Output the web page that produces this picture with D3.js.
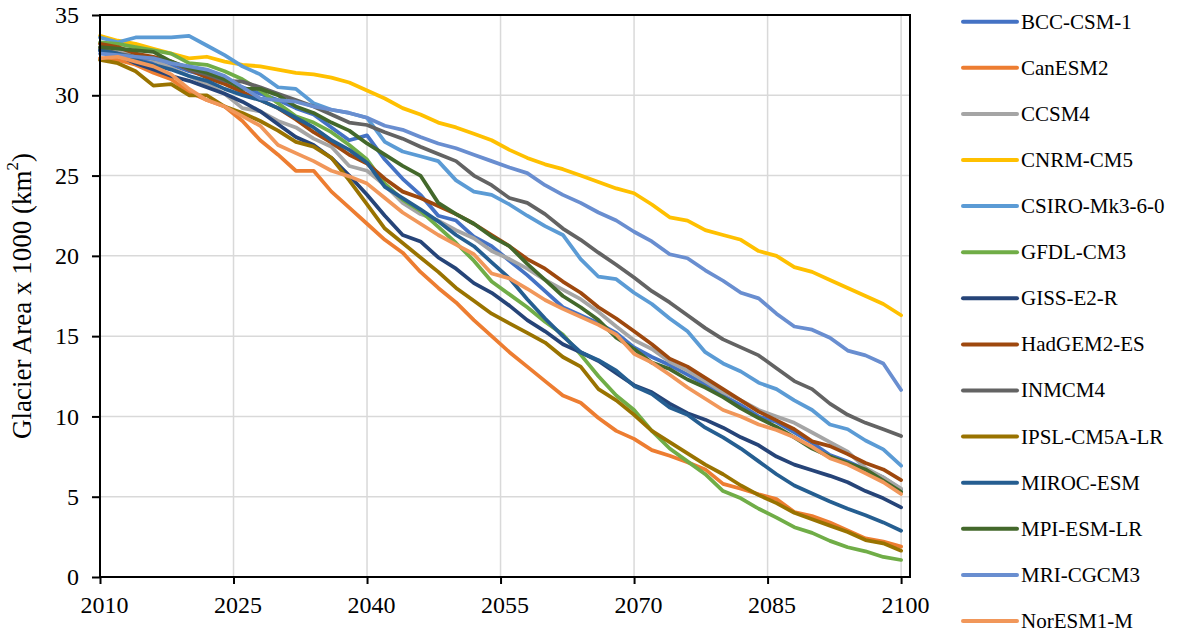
<!DOCTYPE html>
<html>
<head>
<meta charset="utf-8">
<script src="https://cdn.jsdelivr.net/npm/d3@7"></script>
<style>
  body { margin: 0; background: #ffffff; }
  svg text { font-family: "Liberation Serif", "Times New Roman", serif; fill: #000; }
</style>
</head>
<body>
<svg id="chart" width="1179" height="635"></svg>
<script>
// Projection years (every second year)
const years = [2010, 2012, 2014, 2016, 2018, 2020, 2022, 2024, 2026, 2028, 2030,
  2032, 2034, 2036, 2038, 2040, 2042, 2044, 2046, 2048, 2050,
  2052, 2054, 2056, 2058, 2060, 2062, 2064, 2066, 2068, 2070,
  2072, 2074, 2076, 2078, 2080, 2082, 2084, 2086, 2088, 2090,
  2092, 2094, 2096, 2098, 2100];

const models = ["BCC-CSM-1", "CanESM2", "CCSM4", "CNRM-CM5", "CSIRO-Mk3-6-0", "GFDL-CM3",
  "GISS-E2-R", "HadGEM2-ES", "INMCM4", "IPSL-CM5A-LR", "MIROC-ESM", "MPI-ESM-LR",
  "MRI-CGCM3", "NorESM1-M"];

const colors = ["#4472C4", "#ED7D31", "#A5A5A5", "#FFC000", "#5B9BD5", "#70AD47",
  "#264478", "#9E480E", "#636363", "#997300", "#255E91", "#43682B", "#698ED0", "#F1975A"];

// Glacier area (x 1000 km²) per model
const bcc = [32.8, 32.6, 32.4, 32.1, 31.9, 31.5, 31.2, 30.9, 30.5, 30.1, 29.7,
  29.2, 28.8, 28.0, 27.2, 27.5, 26.0, 24.8, 23.8, 22.5, 22.2,
  21.2, 20.6, 19.7, 18.8, 17.8, 16.8, 16.3, 15.8, 15.2, 14.3,
  13.7, 13.2, 12.6, 12.0, 11.3, 10.7, 10.0, 9.65, 9.0, 8.35,
  7.6, 7.2, 6.7, 6.2, 5.46];
const canesm2 = [32.3, 32.2, 31.9, 31.4, 31.0, 30.2, 29.7, 29.3, 28.4, 27.2, 26.3,
  25.3, 25.3, 24.0, 23.0, 22.0, 21.0, 20.2, 19.0, 18.0, 17.1,
  16.0, 15.0, 14.0, 13.1, 12.2, 11.3, 10.85, 9.9, 9.1, 8.6,
  7.9, 7.55, 7.15, 6.7, 5.8, 5.5, 5.15, 4.85, 4.05, 3.8,
  3.4, 2.9, 2.4, 2.2, 1.89];
const ccsm4 = [33.0, 32.8, 32.5, 32.2, 31.7, 31.2, 30.7, 30.1, 29.2, 29.0, 28.4,
  28.0, 27.3, 26.8, 25.6, 25.3, 24.4, 23.3, 22.6, 22.2, 21.6,
  21.1, 20.3, 19.8, 19.2, 18.5, 17.9, 17.3, 16.5, 15.6, 14.75,
  14.2, 13.4, 12.85, 12.2, 11.5, 11.0, 10.4, 10.0, 9.6, 9.0,
  8.4, 7.8, 6.8, 6.2, 5.5];
const cnrm = [33.7, 33.4, 33.2, 32.9, 32.6, 32.3, 32.4, 32.1, 31.9, 31.8, 31.6,
  31.4, 31.3, 31.1, 30.8, 30.3, 29.8, 29.2, 28.8, 28.3, 28.0,
  27.6, 27.2, 26.6, 26.1, 25.7, 25.4, 25.0, 24.6, 24.2, 23.9,
  23.2, 22.4, 22.2, 21.6, 21.3, 21.0, 20.3, 20.0, 19.3, 19.0,
  18.5, 18.0, 17.5, 17.0, 16.3];
const csiro = [33.6, 33.3, 33.6, 33.6, 33.6, 33.7, 33.1, 32.5, 31.8, 31.3, 30.5,
  30.4, 29.5, 29.1, 28.9, 28.6, 27.1, 26.5, 26.2, 25.9, 24.7,
  24.0, 23.8, 23.2, 22.5, 21.85, 21.3, 19.8, 18.7, 18.55, 17.7,
  17.0, 16.1, 15.3, 14.0, 13.3, 12.8, 12.1, 11.7, 11.0, 10.4,
  9.5, 9.2, 8.5, 7.95, 6.93];
const gfdl = [33.3, 33.2, 33.0, 32.8, 32.6, 32.0, 31.9, 31.5, 31.0, 30.3, 29.5,
  28.7, 28.3, 27.7, 26.9, 26.0, 24.5, 23.5, 22.8, 21.8, 20.8,
  19.7, 18.4, 17.6, 16.8, 15.9, 15.1, 13.85, 12.5, 11.3, 10.4,
  9.1, 8.0, 7.2, 6.4, 5.35, 4.9, 4.25, 3.7, 3.1, 2.75,
  2.25, 1.85, 1.6, 1.25, 1.06];
const giss = [32.8, 32.5, 32.0, 31.6, 31.2, 30.9, 30.5, 30.1, 29.6, 29.0, 28.2,
  27.4, 26.9, 26.1, 25.0, 23.8, 22.5, 21.3, 20.9, 19.9, 19.2,
  18.3, 17.7, 16.9, 16.0, 15.3, 14.5, 14.0, 13.45, 12.7, 11.95,
  11.5, 10.8, 10.2, 9.8, 9.3, 8.7, 8.2, 7.5, 7.0, 6.65,
  6.3, 5.9, 5.35, 4.9, 4.34];
const hadgem = [33.2, 33.0, 32.6, 32.4, 32.1, 31.6, 31.1, 30.7, 30.2, 29.7, 29.2,
  28.5, 27.7, 27.05, 26.3, 25.75, 24.8, 24.0, 23.6, 23.1, 22.6,
  22.0, 21.3, 20.6, 19.8, 19.2, 18.4, 17.7, 16.8, 16.1, 15.3,
  14.5, 13.6, 13.1, 12.4, 11.7, 11.0, 10.3, 9.75, 9.2, 8.45,
  8.15, 7.65, 7.1, 6.7, 6.04];
const inmcm4 = [32.9, 32.6, 32.4, 32.3, 32.1, 31.6, 31.3, 30.9, 30.85, 30.5, 30.1,
  29.7, 29.3, 28.8, 28.3, 28.15, 27.7, 27.3, 26.8, 26.35, 25.9,
  25.0, 24.4, 23.6, 23.3, 22.6, 21.7, 21.0, 20.2, 19.45, 18.65,
  17.8, 17.1, 16.3, 15.5, 14.8, 14.3, 13.8, 13.0, 12.2, 11.7,
  10.8, 10.1, 9.6, 9.2, 8.78];
const ipsl = [32.2, 32.0, 31.5, 30.6, 30.7, 30.0, 30.0, 29.3, 28.9, 28.4, 27.8,
  27.1, 26.8, 26.1, 24.7, 23.2, 21.7, 20.8, 19.9, 19.0, 18.0,
  17.2, 16.4, 15.8, 15.2, 14.6, 13.7, 13.1, 11.7, 11.0, 10.1,
  9.1, 8.4, 7.7, 7.0, 6.4, 5.7, 5.1, 4.6, 4.0, 3.6,
  3.2, 2.8, 2.3, 2.1, 1.64];
const miroc = [32.8, 32.6, 32.2, 31.9, 31.6, 31.2, 30.9, 30.4, 30.0, 29.7, 29.2,
  28.6, 28.0, 27.2, 26.6, 25.8, 24.3, 23.6, 22.9, 22.15, 21.3,
  20.6, 19.6, 18.6, 17.3, 16.1, 15.0, 14.0, 13.5, 12.85, 11.9,
  11.4, 10.55, 10.1, 9.3, 8.7, 8.0, 7.2, 6.4, 5.7, 5.2,
  4.7, 4.25, 3.85, 3.4, 2.88];
const mpi = [33.0, 32.9, 32.8, 32.7, 32.1, 31.7, 31.4, 31.0, 30.4, 30.4, 30.0,
  29.3, 28.9, 28.3, 27.8, 27.0, 26.3, 25.6, 25.0, 23.3, 22.6,
  22.0, 21.2, 20.6, 19.5, 18.5, 17.5, 16.8, 16.0, 14.9, 14.2,
  13.35, 12.95, 12.3, 11.8, 11.2, 10.5, 9.9, 9.35, 8.7, 8.0,
  7.5, 7.1, 6.7, 6.0, 5.3];
const mri = [32.6, 32.5, 32.4, 32.3, 32.0, 31.8, 31.6, 31.2, 30.5, 29.8, 29.7,
  29.6, 29.3, 29.1, 28.9, 28.6, 28.1, 27.85, 27.4, 27.0, 26.7,
  26.3, 25.9, 25.5, 25.15, 24.4, 23.8, 23.3, 22.7, 22.2, 21.5,
  20.9, 20.1, 19.85, 19.1, 18.45, 17.7, 17.35, 16.4, 15.6, 15.4,
  14.9, 14.1, 13.8, 13.3, 11.65];
const noresm = [32.3, 32.4, 32.1, 31.8, 31.3, 30.4, 29.7, 29.3, 28.7, 28.1, 26.9,
  26.4, 25.9, 25.3, 24.95, 24.5, 23.6, 22.7, 22.0, 21.3, 20.7,
  20.1, 18.9, 18.6, 17.95, 17.25, 16.7, 16.2, 15.7, 15.1, 13.9,
  13.35, 12.6, 11.8, 11.1, 10.4, 10.0, 9.5, 9.15, 8.7, 8.1,
  7.4, 7.0, 6.45, 5.9, 5.17];

const seriesValues = [bcc, canesm2, ccsm4, cnrm, csiro, gfdl, giss, hadgem,
  inmcm4, ipsl, miroc, mpi, mri, noresm];

const xTicks = [2010, 2025, 2040, 2055, 2070, 2085, 2100];
const yTicks = [0, 5, 10, 15, 20, 25, 30, 35];

const series = models.map((name, i) => ({
  name,
  color: colors[i],
  points: years.map((yr, j) => ({ year: yr, value: seriesValues[i][j] }))
}));

const svg = d3.select("#chart");
const plot = { left: 100, top: 15, right: 910, bottom: 577 };

const x = d3.scaleLinear().domain([2010, 2101]).range([plot.left, plot.right]);
const y = d3.scaleLinear().domain([0, 35]).range([plot.bottom, plot.top]);

// Gridlines
const grid = svg.append("g").attr("class", "grid");
grid.selectAll("line.h").data(yTicks.filter(d => d > 0)).join("line")
  .attr("class", "h")
  .attr("x1", plot.left).attr("x2", plot.right)
  .attr("y1", d => y(d)).attr("y2", d => y(d))
  .attr("stroke", "#d9d9d9").attr("stroke-width", 1.5);
grid.selectAll("line.v").data(xTicks.filter(d => d > 2010)).join("line")
  .attr("class", "v")
  .attr("x1", d => x(d)).attr("x2", d => x(d))
  .attr("y1", plot.top).attr("y2", plot.bottom)
  .attr("stroke", "#d9d9d9").attr("stroke-width", 1.5);

// Model lines
const line = d3.line().x(d => x(d.year)).y(d => y(d.value));
svg.append("g").attr("class", "lines")
  .selectAll("path").data(series).join("path")
  .attr("d", d => line(d.points))
  .attr("fill", "none")
  .attr("stroke", d => d.color)
  .attr("stroke-width", 3.75)
  .attr("stroke-linejoin", "round")
  .attr("stroke-linecap", "round");

// Plot frame
svg.append("rect")
  .attr("x", plot.left).attr("y", plot.top)
  .attr("width", plot.right - plot.left).attr("height", plot.bottom - plot.top)
  .attr("fill", "none").attr("stroke", "#000").attr("stroke-width", 2);

// Axes
const yAxis = svg.append("g")
  .attr("transform", `translate(${plot.left},0)`)
  .call(d3.axisLeft(y).tickValues(yTicks).tickSize(8).tickPadding(13));
const xAxis = svg.append("g")
  .attr("transform", `translate(0,${plot.bottom})`)
  .call(d3.axisBottom(x).tickValues(xTicks).tickFormat(d3.format("d")).tickSize(7).tickPadding(12));

[yAxis, xAxis].forEach(g => {
  g.select(".domain").remove();
  g.selectAll(".tick line").attr("stroke", "#000").attr("stroke-width", 2);
  g.selectAll(".tick text")
    .attr("font-family", "Liberation Serif, Times New Roman, serif")
    .attr("font-size", 24)
    .attr("fill", "#000");
});
xAxis.selectAll(".tick text").attr("dx", 4);

// Axis title
const title = svg.append("text")
  .attr("transform", `translate(22,${(plot.top + plot.bottom) / 2}) rotate(-90)`)
  .attr("text-anchor", "middle")
  .attr("dominant-baseline", "central")
  .attr("font-size", 27);
title.append("tspan").text("Glacier Area x 1000 (km");
title.append("tspan").attr("baseline-shift", "super").attr("font-size", 17).text("2");
title.append("tspan").text(")");

// Legend
const legend = svg.append("g").attr("class", "legend");
const item = legend.selectAll("g").data(series).join("g")
  .attr("transform", (d, i) => `translate(0,${21.7 + i * 46.1})`);
item.append("line")
  .attr("x1", 963).attr("x2", 1017)
  .attr("stroke", d => d.color)
  .attr("stroke-width", 4)
  .attr("stroke-linecap", "round");
item.append("text")
  .attr("x", 1021)
  .attr("dy", "0.33em")
  .attr("font-size", 21)
  .text(d => d.name);
</script>
</body>
</html>
